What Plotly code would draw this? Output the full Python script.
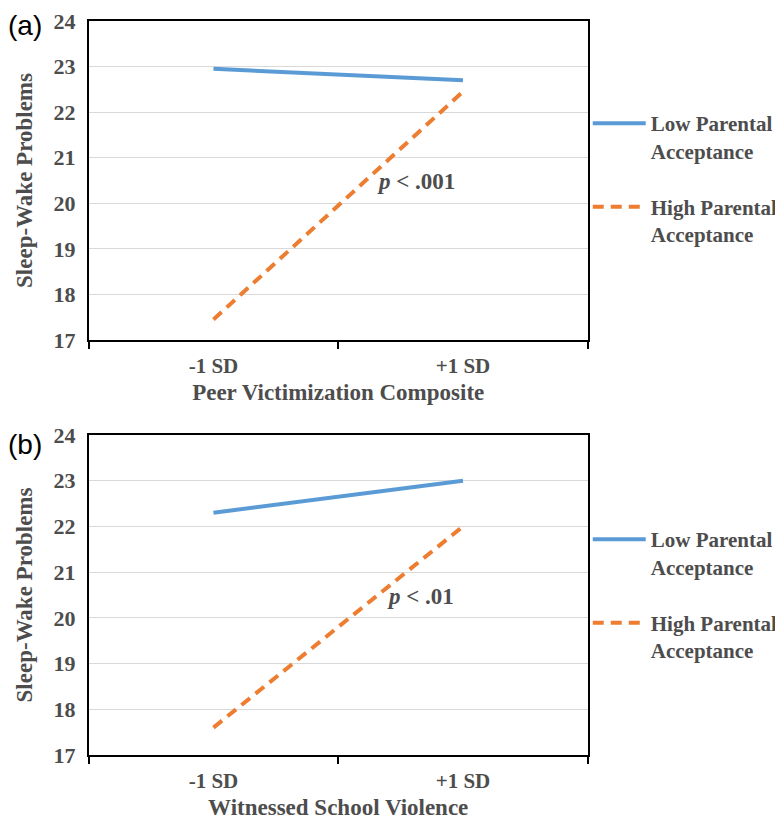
import plotly.graph_objects as go

categories = ["-1 SD", "+1 SD"]
low_a = [22.95, 22.7]
high_a = [17.45, 22.45]
low_b = [22.3, 23.0]
high_b = [17.6, 22.0]
series_names = ["Low Parental<br>Acceptance", "High Parental<br>Acceptance"]
x_titles = ["Peer Victimization Composite", "Witnessed School Violence"]
y_title = "Sleep-Wake Problems"
p_labels = ["<i>p</i> < .001", "<i>p</i> < .01"]
panel_labels = ["(a)", "(b)"]

BLUE = "#5B9BD5"
ORANGE = "#ED7D31"
TXT = "#4D4D4D"
SERIF = "Liberation Serif, Times New Roman, serif"

# the page body has an 8px margin; size the figure so it fits the 783x825 window
OFF = 8
W, H = 783 - OFF, 825 - OFF
fig = go.Figure()

def px_x(p):
    return (p - OFF) / W

def px_y(p):
    return 1 - (p - OFF) / H

panels = [
    dict(low=low_a, high=high_a, xa="x", ya="y", leg="legend"),
    dict(low=low_b, high=high_b, xa="x2", ya="y2", leg="legend2"),
]

for i, p in enumerate(panels):
    fig.add_trace(go.Scatter(
        x=categories, y=p["low"], mode="lines", name=series_names[0],
        line=dict(color=BLUE, width=4), xaxis=p["xa"], yaxis=p["ya"],
        legend=p["leg"], legendgroup=f"low{i}"))
    fig.add_trace(go.Scatter(
        x=categories, y=p["high"], mode="lines", name=series_names[1],
        line=dict(color=ORANGE, width=4, dash="11px,7px"), xaxis=p["xa"], yaxis=p["ya"],
        legend=p["leg"], legendgroup=f"high{i}"))

axis_common_x = dict(
    type="category", range=[-0.5, 1.5], tickson="boundaries", ticks="outside",
    ticklen=7, tickcolor="#000000", tickwidth=1.5, showgrid=False,
    showline=True, linecolor="#000000", linewidth=1.5, mirror=True,
    tickfont=dict(family=SERIF, size=21, color=TXT, weight="bold"),
    ticklabelstandoff=6,
    title=dict(font=dict(family=SERIF, size=23, color=TXT, weight="bold"), standoff=7),
    automargin=False, fixedrange=True,
)
axis_common_y = dict(
    range=[17, 24], dtick=1, tick0=17, showgrid=True, gridcolor="#D9D9D9", gridwidth=1.2,
    showline=True, linecolor="#000000", linewidth=1.5, mirror=True, ticks="",
    tickfont=dict(family=SERIF, size=22, color=TXT, weight="bold"),
    ticklabelstandoff=7, ticklabeloverflow="allow",
    title=dict(text=y_title, font=dict(family=SERIF, size=23, color=TXT, weight="bold"), standoff=14),
    zeroline=False, automargin=False, fixedrange=True,
)

xd = [px_x(89), px_x(590)]
legend_common = dict(xanchor="left", yanchor="top", valign="top", tracegroupgap=26,
                     itemwidth=53, bgcolor="rgba(0,0,0,0)",
                     font=dict(family=SERIF, size=21, color=TXT, weight="bold"))
fig.update_layout(
    template="none",
    width=W, height=H, margin=dict(l=0, r=0, t=0, b=0),
    plot_bgcolor="white", paper_bgcolor="white", showlegend=True,
    xaxis=dict(axis_common_x, domain=xd, anchor="y", title_text=x_titles[0]),
    yaxis=dict(axis_common_y, domain=[px_y(340), px_y(21)], anchor="x"),
    xaxis2=dict(axis_common_x, domain=xd, anchor="y2", title_text=x_titles[1]),
    yaxis2=dict(axis_common_y, domain=[px_y(755), px_y(435)], anchor="x2"),
    legend=dict(legend_common, x=px_x(590), y=px_y(103)),
    legend2=dict(legend_common, x=px_x(590), y=px_y(519)),
)

fig.add_annotation(x=0.81, y=20.47, xref="x", yref="y", text=p_labels[0], showarrow=False,
                   font=dict(family=SERIF, size=23, color=TXT, weight="bold"))
fig.add_annotation(x=0.83, y=20.46, xref="x2", yref="y2", text=p_labels[1], showarrow=False,
                   font=dict(family=SERIF, size=23, color=TXT, weight="bold"))

for lbl, yc in zip(panel_labels, [25, 445]):
    fig.add_annotation(x=px_x(6), y=px_y(yc), xref="paper", yref="paper", text=lbl,
                       showarrow=False, xanchor="left", yanchor="middle",
                       font=dict(family="Liberation Sans, Arial, sans-serif", size=28, color="#000000"))

fig.write_html("out.html")
